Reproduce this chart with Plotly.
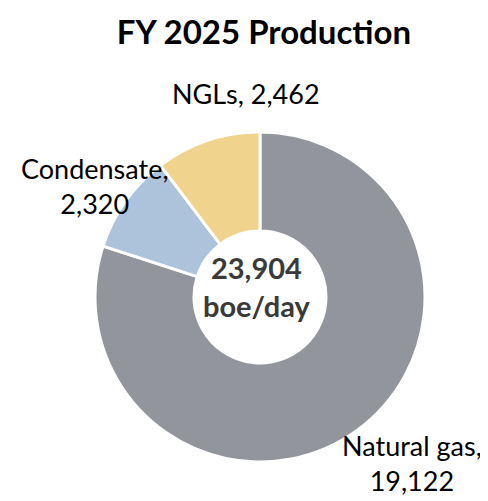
import plotly.graph_objects as go

labels = ["Natural gas", "Condensate", "NGLs"]
values = [19122, 2320, 2462]
colors = ["#92969c", "#adc3dc", "#f0d38c"]

# label positions (paper coords), one per slice
lab_x = [0.828, 0.178, 0.488]
lab_y = [0.092, 0.645, 0.83]

W, H = 488, 501
fnt = "Lato, Calibri, Arial, sans-serif"

fig = go.Figure()
fig.add_trace(go.Pie(
    labels=labels, values=values,
    hole=0.4, sort=False, direction="clockwise", rotation=0,
    marker=dict(colors=colors, line=dict(color="white", width=3)),
    textinfo="none", hoverinfo="label+value",
    domain=dict(x=[87 / W, 417 / W], y=[1 - 456 / H, 1 - 122 / H]),
    showlegend=False,
))

texts = ["Natural gas,<br>{:,}".format(values[0]),
         "Condensate,<br>{:,}".format(values[1]),
         "NGLs, {:,}".format(values[2])]
for t, x, y in zip(texts, lab_x, lab_y):
    fig.add_annotation(text=t, x=x, y=y, xref="paper", yref="paper",
                       showarrow=False, font=dict(size=27, color="black", family=fnt),
                       xanchor="center", yanchor="middle", align="center")

fig.add_annotation(text="<b>{:,}<br>boe/day</b>".format(sum(values)),
                   x=248 / W, y=1 - 278 / H, xref="paper", yref="paper",
                   showarrow=False, font=dict(size=29, color="#3a3a3a", family=fnt),
                   align="center")

fig.update_layout(
    width=W, height=H,
    title=dict(text="<b>FY 2025 Production</b>", x=256 / W, xanchor="center",
               y=1 - 24 / H, yanchor="middle",
               font=dict(size=33, color="black", family=fnt)),
    margin=dict(l=0, r=0, t=0, b=0),
    paper_bgcolor="white", plot_bgcolor="white",
)
fig.write_html("out.html")
